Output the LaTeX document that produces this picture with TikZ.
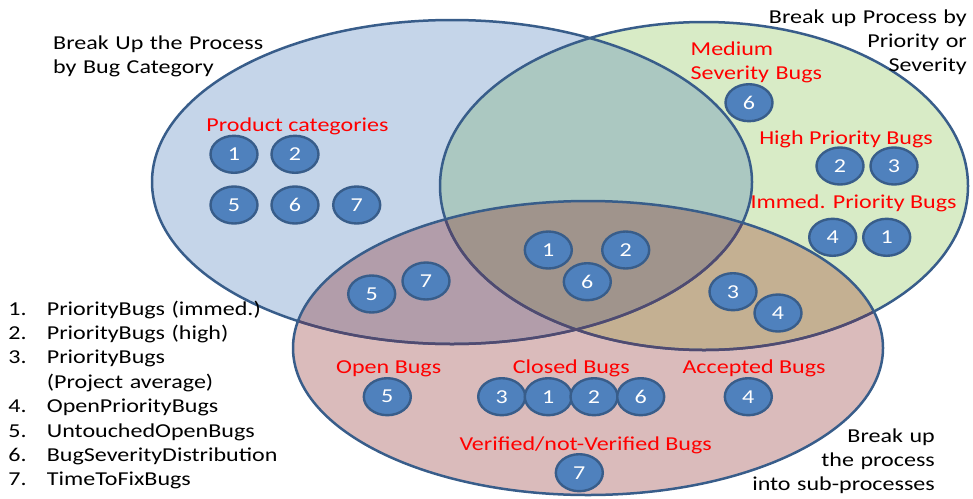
\documentclass[tikz,border=0pt]{standalone}
\usepackage{fontspec}
\setmainfont[FakeStretch=1.22]{Carlito}
\usetikzlibrary{shapes.geometric}

% region colours of the three-set diagram
\definecolor{cB}{RGB}{197,213,233}
\definecolor{cG}{RGB}{216,235,198}
\definecolor{cR}{RGB}{218,187,187}
\definecolor{cBG}{RGB}{171,200,193}
\definecolor{cBR}{RGB}{178,157,170}
\definecolor{cGR}{RGB}{196,176,146}
\definecolor{cBGR}{RGB}{160,148,140}
\definecolor{edge}{RGB}{56,93,138}
\definecolor{edgedim}{RGB}{80,74,112}
\definecolor{nfill}{RGB}{79,129,189}
\definecolor{nedge}{RGB}{56,93,138}
\definecolor{lbl}{RGB}{255,0,0}

% the three sets
\def\Eb{(452,182) ellipse [x radius=300pt, y radius=162pt]}
\def\Eg{(704,186) ellipse [x radius=264pt, y radius=164pt]}
\def\Er{(588,348) ellipse [x radius=295pt, y radius=147pt]}

\tikzset{
  txt/.style={font=\fontsize{19.7}{24.4}\selectfont, inner sep=0pt},
  redlbl/.style={txt, text=lbl},
  blk/.style={txt, text=black},
  setline/.style={draw=edge, line width=2.5pt},
  setdim/.style={draw=edgedim, line width=2.5pt},
  num/.style={ellipse, minimum width=47pt, minimum height=37pt, inner sep=0pt,
    fill=nfill, draw=nedge, line width=2.4pt, text=white,
    font=\fontsize{19.7}{24}\selectfont},
}

\begin{document}
\begin{tikzpicture}[x=1pt, y=-1pt]
\useasboundingbox (0,0) rectangle (973,498);

% fills of single sets and their overlaps
\fill[cB] \Eb;
\fill[cG] \Eg;
\fill[cR] \Er;
\begin{scope}
  \clip \Eg;
  \fill[cGR] \Er;
\end{scope}
\begin{scope}
  \clip \Eb;
  \fill[cBG] \Eg;
  \fill[cBR] \Er;
  \clip \Eg;
  \fill[cBGR] \Er;
\end{scope}

% outlines
\draw[setline] \Eb;
\draw[setline] \Eg;
\begin{scope}
  \clip \Er;
  \draw[setdim] \Eb;
  \draw[setdim] \Eg;
\end{scope}
\draw[setline] \Er;

% captions of the three sets
\node[blk, anchor=base west, text width=260pt, align=left] (capB) at (53,49)
  {Break Up the Process\\by Bug Category};
\node[blk, anchor=base east, text width=260pt, align=right] (capG) at (967,23)
  {Break up Process by\\Priority or\\Severity};
\node[blk, anchor=base east, text width=260pt, align=right] (capR) at (935,442)
  {Break up\\the process\\into sub-processes};

% legend of the metrics
\node[blk, anchor=base west, text width=320pt, align=left] (legend) at (8.3,315)
  {\makebox[38.4pt][l]{1.}PriorityBugs (immed.)\\
   \makebox[38.4pt][l]{2.}PriorityBugs (high)\\
   \makebox[38.4pt][l]{3.}PriorityBugs\\
   \makebox[38.4pt][l]{}(Project average)\\
   \makebox[38.4pt][l]{4.}OpenPriorityBugs\\
   \makebox[38.4pt][l]{5.}UntouchedOpenBugs\\
   \makebox[38.4pt][l]{6.}BugSeverityDistribution\\
   \makebox[38.4pt][l]{7.}TimeToFixBugs};

% product categories
\node[redlbl, anchor=base] (lprod) at (297.5,131.7) {Product categories};
\node[num] (pc1) at (234,154.3) {1};
\node[num] (pc2) at (295,154.3) {2};
\node[num] (pc5) at (234,205) {5};
\node[num] (pc6) at (295,205) {6};
\node[num] (pc7) at (356.7,205) {7};

% priority / severity
\node[redlbl, anchor=base west, text width=200pt, align=left] (lmed) at (690.5,55)
  {Medium\\Severity Bugs};
\node[num] (ms6) at (749,102.7) {6};
\node[redlbl, anchor=base] (lhigh) at (846,144) {High Priority Bugs};
\node[num] (hp2) at (840,166) {2};
\node[num] (hp3) at (894,166) {3};
\node[redlbl, anchor=base] (limm) at (853.5,208.3) {Immed. Priority Bugs};
\node[num] (ip4) at (832.7,237.3) {4};
\node[num] (ip1) at (886.7,237.3) {1};

% overlaps
\node[num] (c1) at (548.3,250) {1};
\node[num] (c2) at (625.7,250) {2};
\node[num] (c6) at (587.3,281.7) {6};
\node[num] (br7) at (426,281) {7};
\node[num] (br5) at (371.7,294) {5};
\node[num] (gr3) at (733,291.7) {3};
\node[num] (gr4) at (778,313) {4};

% sub-processes
\node[redlbl, anchor=base] (lopen) at (388.7,373.3) {Open Bugs};
\node[num] (ob5) at (387.3,396.7) {5};
\node[redlbl, anchor=base] (lclosed) at (571.3,373.3) {Closed Bugs};
\node[num] (cb3) at (501.7,396.7) {3};
\node[num] (cb1) at (548.3,396.7) {1};
\node[num] (cb2) at (594,396.7) {2};
\node[num] (cb6) at (640.7,396.7) {6};
\node[redlbl, anchor=base] (lacc) at (754,373.3) {Accepted Bugs};
\node[num] (ab4) at (748.3,396.7) {4};
\node[redlbl, anchor=base west] (lver) at (459.3,450) {Verified/not-Verified Bugs};
\node[num] (vb7) at (579.3,472.7) {7};
\end{tikzpicture}
\end{document}
